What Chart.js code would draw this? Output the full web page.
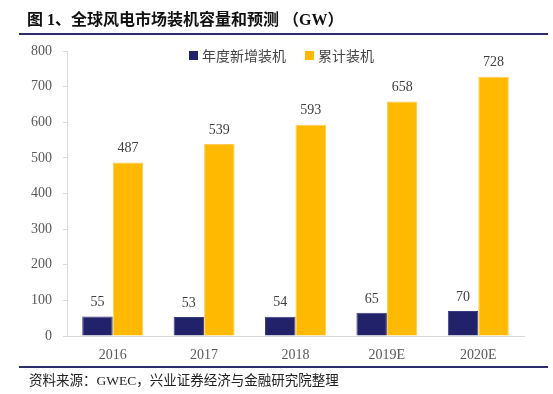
<!DOCTYPE html>
<html>
<head>
<meta charset="utf-8">
<script src="https://cdn.jsdelivr.net/npm/chart.js@4"></script>
<style>
  html, body { margin: 0; padding: 0; background: #fff; }
  body { width: 553px; height: 394px; position: relative; overflow: hidden; }
  #wrap { position: absolute; left: 0; top: 0; width: 553px; height: 394px; }
  .title { position: absolute; left: 27px; top: 6px; font: bold 16px "Liberation Serif", "Noto Sans CJK SC", serif; color: #111; white-space: pre; }
  .rule { position: absolute; left: 19px; width: 529px; height: 2px; background: #2b2d6c; }
  .source { position: absolute; left: 29px; top: 369px; font: 13.5px "Liberation Serif", "Noto Sans CJK SC", serif; color: #222; }
  .legend { position: absolute; top: 45px; left: 189px; font: 14px "Noto Sans CJK SC", sans-serif; color: #444; display: flex; align-items: center; }
  .legend i { display: inline-block; width: 9px; height: 9px; margin-right: 4px; }
</style>
</head>
<body>
<div id="wrap"><canvas id="chart" width="553" height="394"></canvas></div>
<div class="title">图 1、全球风电市场装机容量和预测 （GW）</div>
<div class="rule" style="top:33px"></div>
<div class="rule" style="top:366px"></div>
<div class="legend">
  <i style="background:#22226b"></i><span>年度新增装机</span>
  <i style="background:#ffb900; margin-left:19px"></i><span>累计装机</span>
</div>
<div class="source">资料来源：GWEC，兴业证券经济与金融研究院整理</div>

<script>
//  Data ──
const years      = ['2016', '2017', '2018', '2019E', '2020E'];
const newAdded   = [55, 53, 54, 65, 70];
const cumulative = [487, 539, 593, 658, 728];
const seriesNames = ['年度新增装机', '累计装机'];
const yTicks     = [0, 100, 200, 300, 400, 500, 600, 700, 800];

const NAVY   = '#22226b';
const YELLOW = '#ffb900';
const AXIS   = '#d9d9d9';
const LABEL  = '#595959';
const SERIF  = '"Liberation Serif", "DejaVu Serif", serif';

//  Value labels above bars 
const barLabels = {
  id: 'barLabels',
  afterDatasetsDraw(chart) {
    const ctx = chart.ctx;
    ctx.save();
    ctx.font = '14px ' + SERIF;
    ctx.fillStyle = '#404040';
    ctx.textAlign = 'center';
    ctx.textBaseline = 'bottom';
    chart.data.datasets.forEach((ds, i) => {
      chart.getDatasetMeta(i).data.forEach((bar, j) => {
        ctx.fillText(ds.data[j], bar.x, bar.y - 7);
      });
    });
    ctx.restore();
  }
};

new Chart(document.getElementById('chart'), {
  type: 'bar',
  data: {
    labels: years,
    datasets: [
      { label: seriesNames[0], data: newAdded,   backgroundColor: NAVY,   borderColor: '#3b3b80', borderWidth: 1 },
      { label: seriesNames[1], data: cumulative, backgroundColor: YELLOW, borderColor: '#ffcc4d', borderWidth: 1 }
    ]
  },
  options: {
    responsive: false,
    animation: false,
    layout: { padding: { left: 0, right: 29, top: 51, bottom: 0 } },
    datasets: { bar: { categoryPercentage: 0.667, barPercentage: 1.0 } },
    plugins: {
      legend: { display: false },
      tooltip: { enabled: false }
    },
    scales: {
      x: {
        grid: { display: false, drawTicks: false },
        border: { display: true, color: AXIS, width: 1 },
        ticks: { color: LABEL, font: { family: SERIF, size: 14 }, padding: 11 },
        afterFit: s => { s.height = 58; }
      },
      y: {
        min: 0,
        max: 800,
        afterBuildTicks: s => { s.ticks = yTicks.map(v => ({ value: v })); },
        grid: { drawOnChartArea: false, drawTicks: true, tickLength: 4, color: AXIS },
        border: { display: true, color: AXIS, width: 1 },
        ticks: { color: LABEL, font: { family: SERIF, size: 14 }, padding: 11 },
        afterFit: s => { s.width = 67; }
      }
    }
  },
  plugins: [barLabels]
});
</script>
</body>
</html>
